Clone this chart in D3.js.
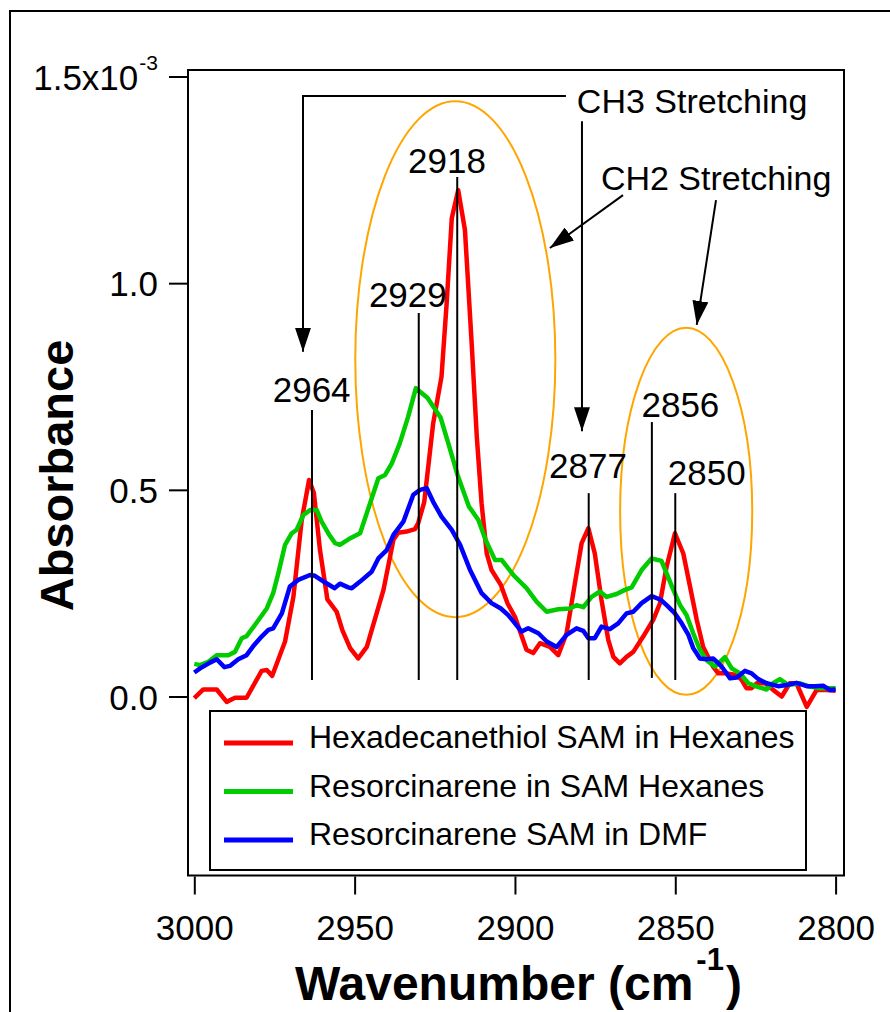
<!DOCTYPE html>
<html>
<head>
<meta charset="utf-8">
<script src="https://cdn.jsdelivr.net/npm/d3@7"></script>
<style>
  html, body { margin: 0; padding: 0; background: #fff; }
  svg { display: block; }
  text { font-family: "Liberation Sans", Arial, sans-serif; fill: #000; }
</style>
</head>
<body>
<svg id="chart" width="890" height="1012"></svg>
<script>
// ---------------- data (absorbance in units of 1e-3) ----------------
const seriesNames = [
  "Hexadecanethiol SAM in Hexanes",
  "Resorcinarene in SAM Hexanes",
  "Resorcinarene SAM in DMF"
];
const seriesColors = ["#ff0000", "#00cc00", "#0000ff"];

// [wavenumber (cm-1), absorbance x1e-3]
const hexadecanethiol = [
  [3000,-0.004],[2997.2,0.017],[2993.0,0.017],[2989.9,-0.013],[2987.3,-0.003],[2983.7,-0.003],
  [2979.0,0.062],[2977.4,0.064],[2975.7,0.050],[2971.7,0.133],[2969.1,0.241],[2966.5,0.427],
  [2964.2,0.524],[2962.7,0.492],[2960.8,0.354],[2958.5,0.235],[2955.6,0.205],[2953.8,0.160],
  [2951.4,0.117],[2948.9,0.092],[2946.2,0.120],[2941.0,0.258],[2937.9,0.379],[2936.4,0.396],
  [2933.8,0.399],[2931.2,0.405],[2930.2,0.419],[2928.3,0.470],[2925.5,0.661],[2922.9,0.774],
  [2921.3,0.951],[2919.7,1.157],[2917.7,1.225],[2915.6,1.129],[2913.5,0.855],[2911.9,0.629],
  [2910.4,0.467],[2908.8,0.346],[2907.3,0.306],[2904.4,0.270],[2902.3,0.225],[2900.0,0.193],
  [2896.4,0.113],[2894.3,0.105],[2892.2,0.129],[2889.1,0.120],[2886.5,0.100],[2883.9,0.153],
  [2881.3,0.274],[2879.2,0.371],[2877.1,0.407],[2875.1,0.346],[2873.0,0.233],[2870.9,0.137],
  [2869.3,0.096],[2867.3,0.080],[2865.2,0.096],[2863.1,0.108],[2860.0,0.145],[2856.9,0.185],
  [2854.8,0.225],[2852.7,0.314],[2850.1,0.395],[2847.5,0.346],[2845.4,0.266],[2843.3,0.185],
  [2841.3,0.120],[2838.2,0.072],[2836.6,0.056],[2834.0,0.056],[2830.9,0.052],[2829.3,0.040],
  [2827.8,0.020],[2826.2,0.020],[2824.6,0.032],[2822.0,0.032],[2819.5,0.016],[2816.8,0.000],
  [2814.3,0.032],[2812.2,0.032],[2809.0,-0.025],[2805.9,0.016],[2802.8,0.016],[2800,0.014]
];
const resorcinareneHexanes = [
  [3000,0.079],[2998.2,0.076],[2995.6,0.084],[2993.0,0.100],[2989.4,0.100],[2987.3,0.108],
  [2985.2,0.141],[2983.7,0.146],[2981.1,0.173],[2977.4,0.213],[2975.4,0.250],[2973.8,0.298],
  [2971.7,0.367],[2969.6,0.395],[2968.1,0.403],[2966.0,0.439],[2963.9,0.451],[2961.8,0.451],
  [2960.3,0.423],[2958.0,0.392],[2956.1,0.371],[2954.6,0.367],[2951.8,0.381],[2948.3,0.395],
  [2945.2,0.467],[2942.6,0.528],[2940.5,0.536],[2938.4,0.564],[2935.9,0.613],[2933.3,0.677],
  [2930.9,0.746],[2927.3,0.723],[2923.2,0.675],[2920.8,0.613],[2917.9,0.536],[2914.4,0.460],
  [2911.4,0.427],[2909.2,0.380],[2906.2,0.330],[2904.1,0.330],[2900.5,0.294],[2896.4,0.262],
  [2893.2,0.229],[2890.1,0.205],[2886.5,0.211],[2882.9,0.213],[2880.8,0.221],[2878.7,0.216],
  [2876.1,0.241],[2873.5,0.254],[2871.4,0.241],[2868.3,0.248],[2865.7,0.258],[2863.6,0.264],
  [2860.5,0.306],[2857.4,0.334],[2854.3,0.328],[2852.7,0.298],[2850.6,0.258],[2848.5,0.221],
  [2846.5,0.197],[2844.4,0.153],[2842.3,0.113],[2840.2,0.088],[2837.6,0.072],[2834.5,0.095],
  [2832.4,0.068],[2829.8,0.056],[2827.2,0.032],[2824.6,0.024],[2821.5,0.017],[2819.5,0.032],
  [2817.4,0.042],[2814.8,0.028],[2811.1,0.032],[2808.0,0.024],[2804.9,0.020],[2801.8,0.020],
  [2800,0.020]
];
const resorcinareneDMF = [
  [3000,0.058],[2998.2,0.068],[2995.1,0.082],[2993.0,0.090],[2990.6,0.071],[2988.9,0.074],
  [2986.3,0.090],[2983.7,0.100],[2981.6,0.122],[2979.0,0.145],[2976.9,0.161],[2975.4,0.165],
  [2972.7,0.201],[2970.2,0.266],[2967.6,0.282],[2963.9,0.294],[2962.4,0.292],[2960.0,0.280],
  [2957.5,0.268],[2956.3,0.262],[2954.6,0.273],[2952.0,0.264],[2950.9,0.262],[2948.3,0.278],
  [2944.7,0.302],[2942.6,0.334],[2940.0,0.354],[2937.9,0.391],[2934.8,0.423],[2931.7,0.488],
  [2929.6,0.500],[2927.5,0.504],[2925.5,0.471],[2922.9,0.435],[2919.7,0.403],[2917.1,0.367],
  [2914.0,0.306],[2910.4,0.250],[2907.3,0.226],[2904.4,0.213],[2902.1,0.197],[2900.0,0.177],
  [2897.9,0.157],[2895.9,0.165],[2892.7,0.153],[2890.1,0.133],[2887.0,0.120],[2883.9,0.149],
  [2880.8,0.165],[2878.7,0.159],[2877.1,0.141],[2875.1,0.141],[2873.0,0.169],[2870.4,0.163],
  [2867.8,0.177],[2865.2,0.201],[2863.1,0.205],[2860.5,0.226],[2857.4,0.243],[2854.5,0.234],
  [2852.7,0.221],[2850.1,0.201],[2848.0,0.177],[2845.9,0.149],[2844.4,0.117],[2842.3,0.092],
  [2840.2,0.090],[2838.2,0.092],[2835.5,0.072],[2832.9,0.044],[2830.8,0.046],[2828.3,0.062],
  [2826.2,0.056],[2824.1,0.042],[2821.5,0.032],[2817.9,0.025],[2815.3,0.028],[2812.2,0.033],
  [2809.0,0.025],[2806.5,0.025],[2803.9,0.026],[2801.8,0.016],[2800,0.017]
];

const xTicks = [3000, 2950, 2900, 2850, 2800];
const yTicks = [0, 0.5, 1.0, 1.5];
const yTickLabels = ["0.0", "0.5", "1.0", "1.5x10"];

// peak annotations: label, line wavenumber, line top, line bottom, label wavenumber, label baseline (data units)
const peakLabels = ["2964", "2929", "2918", "2877", "2856", "2850"];
const peakLineWn = [2963.3, 2930.0, 2918.0, 2877.0, 2857.3, 2850.0];
const peakLineTop = [0.693, 0.928, 1.257, 0.492, 0.664, 0.492];
const peakLineBottom = [0.040, 0.040, 0.040, 0.040, 0.045, 0.040];
const peakLabelWn = [2963.4, 2933.4, 2921.2, 2877.2, 2848.4, 2840.2];
const peakLabelY = [0.712, 0.942, 1.267, 0.529, 0.676, 0.512];

// highlight ellipses: center wn, center value, radius (wn), radius (value)
const ellipses = [
  { cx: 2918.6, cy: 0.816, rx: 31.2, ry: 0.624 },
  { cx: 2846.6, cy: 0.448, rx: 20.6, ry: 0.444 }
];

// ---------------- layout ----------------
const svg = d3.select("#chart");
const frame = { left: 188, top: 70, right: 844, bottom: 875.5 };

const x = d3.scaleLinear().domain([3000, 2800]).range([194.3, 835.6]);
const y = d3.scaleLinear().domain([0, 1.5]).range([696.5, 76.5]);

// outer border
svg.append("rect").attr("x", 10).attr("y", 11).attr("width", 900).attr("height", 1020)
  .attr("fill", "none").attr("stroke", "#000").attr("stroke-width", 2);

// plot frame
svg.append("rect")
  .attr("x", frame.left).attr("y", frame.top)
  .attr("width", frame.right - frame.left).attr("height", frame.bottom - frame.top)
  .attr("fill", "none").attr("stroke", "#000").attr("stroke-width", 2);

// y axis
const yAxis = svg.append("g").attr("transform", `translate(${frame.left},0)`)
  .call(d3.axisLeft(y).tickValues(yTicks).tickSize(19).tickPadding(11)
    .tickFormat((d, i) => yTickLabels[i]));
yAxis.select(".domain").remove();
yAxis.selectAll(".tick line").attr("stroke", "#000").attr("stroke-width", 2);
yAxis.selectAll(".tick text")
  .attr("font-family", "Liberation Sans, Arial, sans-serif")
  .attr("font-size", 35).attr("dy", 12.5).attr("fill", "#000");
yAxis.selectAll(".tick text").filter(d => d === 1.5)
  .append("tspan").attr("dx", 1).attr("dy", -20).attr("font-size", 21).text("-3");

// x axis
const xAxis = svg.append("g").attr("transform", `translate(0,${frame.bottom + 1})`)
  .call(d3.axisBottom(x).tickValues(xTicks).tickSize(18).tickFormat(d3.format("d")));
xAxis.select(".domain").remove();
xAxis.selectAll(".tick line").attr("stroke", "#000").attr("stroke-width", 2);
xAxis.selectAll(".tick text")
  .attr("font-family", "Liberation Sans, Arial, sans-serif")
  .attr("font-size", 35).attr("y", 63).attr("dy", 0).attr("fill", "#000");

// axis titles
svg.append("text")
  .attr("transform", "translate(73,475.5) rotate(-90)")
  .attr("text-anchor", "middle").attr("font-size", 47).attr("font-weight", "bold")
  .text("Absorbance");

const xt = svg.append("text").attr("x", 295).attr("y", 1000)
  .attr("font-size", 48).attr("font-weight", "bold");
xt.append("tspan").text("Wavenumber (cm");
xt.append("tspan").attr("dx", 3).attr("dy", -30).attr("font-size", 31).text("-1");
xt.append("tspan").attr("dx", 2).attr("dy", 30).text(")");

// ellipses (drawn below curves)
svg.append("g").selectAll("ellipse").data(ellipses).join("ellipse")
  .attr("cx", d => x(d.cx)).attr("cy", d => y(d.cy))
  .attr("rx", d => Math.abs(x(d.cx + d.rx) - x(d.cx)))
  .attr("ry", d => Math.abs(y(d.cy + d.ry) - y(d.cy)))
  .attr("fill", "none").attr("stroke", "#ffa500").attr("stroke-width", 2);

// curves
const line = d3.line().x(d => x(d[0])).y(d => y(d[1]));
const allSeries = [hexadecanethiol, resorcinareneHexanes, resorcinareneDMF];
svg.append("g").selectAll("path").data(allSeries).join("path")
  .attr("d", line)
  .attr("fill", "none")
  .attr("stroke", (d, i) => seriesColors[i])
  .attr("stroke-width", 4.5)
  .attr("stroke-linejoin", "round");

// peak lines and labels
const peaks = peakLabels.map((label, i) => ({
  label, wn: peakLineWn[i], top: peakLineTop[i], bottom: peakLineBottom[i],
  lx: peakLabelWn[i], ly: peakLabelY[i]
}));
const pg = svg.append("g");
pg.selectAll("line").data(peaks).join("line")
  .attr("x1", d => x(d.wn)).attr("x2", d => x(d.wn))
  .attr("y1", d => y(d.top)).attr("y2", d => y(d.bottom))
  .attr("stroke", "#000").attr("stroke-width", 2);
pg.selectAll("text").data(peaks).join("text")
  .attr("x", d => x(d.lx)).attr("y", d => y(d.ly))
  .attr("text-anchor", "middle").attr("font-size", 35)
  .text(d => d.label);

// arrows
const defs = svg.append("defs");
defs.append("marker").attr("id", "arrow")
  .attr("viewBox", "0 0 24 16").attr("refX", 24).attr("refY", 8)
  .attr("markerWidth", 24).attr("markerHeight", 16)
  .attr("markerUnits", "userSpaceOnUse").attr("orient", "auto")
  .append("path").attr("d", "M0,0 L24,8 L0,16 Z").attr("fill", "#000");

const arrowPaths = [
  [[2884.1, 1.453], [2966.1, 1.453], [2966.1, 0.834]],
  [[2879.1, 1.392], [2879.1, 0.642]],
  [[2866.3, 1.213], [2889.1, 1.085]],
  [[2837.3, 1.201], [2843.3, 0.899]]
];
svg.append("g").selectAll("path").data(arrowPaths).join("path")
  .attr("d", d3.line().x(d => x(d[0])).y(d => y(d[1])))
  .attr("fill", "none").attr("stroke", "#000").attr("stroke-width", 2)
  .attr("marker-end", "url(#arrow)");

const notes = [
  { text: "CH3 Stretching", wn: 2880.7, v: 1.412 },
  { text: "CH2 Stretching", wn: 2873.2, v: 1.225 }
];
svg.append("g").selectAll("text").data(notes).join("text")
  .attr("x", d => x(d.wn)).attr("y", d => y(d.v))
  .attr("font-size", 34).text(d => d.text);

// legend
const lg = svg.append("g");
lg.append("rect").attr("x", 210).attr("y", 711).attr("width", 596).attr("height", 159)
  .attr("fill", "#fff").attr("stroke", "#000").attr("stroke-width", 2);
const rows = lg.selectAll("g.row").data(seriesNames).join("g").attr("class", "row")
  .attr("transform", (d, i) => `translate(0,${743 + i * 48.5})`);
rows.append("line").attr("x1", 224).attr("x2", 293).attr("y1", 0).attr("y2", 0)
  .attr("stroke", (d, i) => seriesColors[i]).attr("stroke-width", 5);
rows.append("text").attr("x", 309).attr("y", 5).attr("font-size", 32).text(d => d);
</script>
</body>
</html>
